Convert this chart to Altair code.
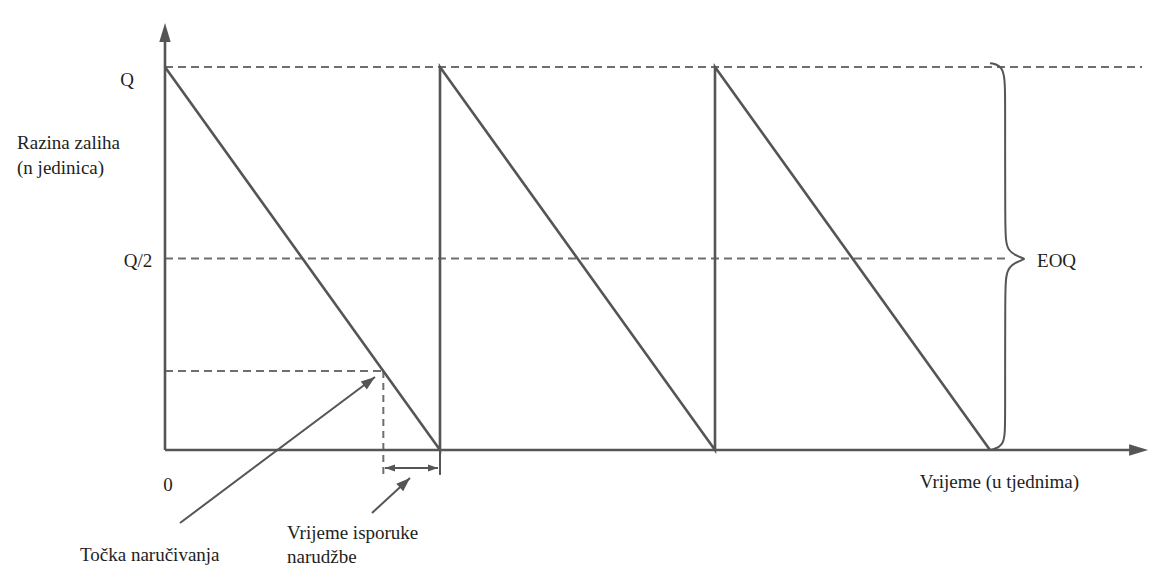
import altair as alt
import pandas as pd

# ---- data (time in cycles, level as fraction of Q) ----
cycle_t = [0, 1, 1, 2, 2, 3]
cycle_level = [1, 0, 1, 0, 1, 0]

ref_names = ["Q", "Q/2", "reorder"]
ref_levels = [1.0, 0.5, 0.206]
ref_end = [3.553, 3.062, 0.794]

reorder_t = 0.794
reorder_level = 0.206
lead_low = -0.065
lead_arrow_level = -0.047
lead_head_t = [0.80, 0.9927]

axis_y_top = 1.115
axis_x_end = 3.575

brace_t = [3.0, 3.055, 3.055, 3.055, 3.058, 3.127, 3.127, 3.058, 3.055, 3.055, 3.055, 3.0]
brace_level = [1.010, 1.003, 0.914, 0.574, 0.517, 0.499, 0.499, 0.480, 0.418, 0.078, 0.010, 0.0]

ptr_t1 = [0.0545, 0.7527]
ptr_l1 = [-0.1906, -0.1645]
ptr_t2 = [0.7636, 0.8909]
ptr_l2 = [0.1906, -0.0731]
ptr_angle = [53, 47]

label_text = ["Q", "Razina zaliha", "(n jedinica)", "Q/2", "0", "Točka naručivanja",
              "Vrijeme isporuke", "narudžbe", "Vrijeme (u tjednima)", "EOQ"]
label_t = [-0.138, -0.538, -0.538, -0.098, 0.011, -0.309, 0.4436, 0.4436, 2.745, 3.171]
label_level = [0.966, 0.802, 0.736, 0.493, -0.091, -0.274, -0.217, -0.279, -0.0836, 0.493]
label_align = ["center", "left", "left", "center", "center", "left", "left", "left", "left", "left"]

W, H = 1155, 562
xs = alt.Scale(domain=[-0.5709, 3.6291], nice=False, zero=False)
ys = alt.Scale(domain=[-0.3133, 1.1540], nice=False, zero=False)

LINE = "#555555"
DASH = "#6e6e6e"
TEXT = "#1e1e1e"
FONT = "Liberation Serif, Times New Roman, DejaVu Serif, serif"

# arrowhead outlines (tip at the data point)
HEAD_UP = "M0,0L-0.3,1L0.3,1Z"
HEAD_RIGHT = "M0,0L-1,-0.3L-1,0.3Z"
HEAD_LEFT_S = "M0,0L1,-0.35L1,0.35Z"
HEAD_RIGHT_S = "M0,0L-1,-0.35L-1,0.35Z"
HEAD_PTR = "M0,0L-0.36,1L0.36,1Z"

saw = pd.DataFrame({"t": cycle_t, "level": cycle_level, "o": range(len(cycle_t))})
refs = pd.DataFrame({"name": ref_names, "level": ref_levels, "t0": 0.0, "t1": ref_end})
brace = pd.DataFrame({"t": brace_t, "level": brace_level, "o": range(len(brace_t))})
ptr = pd.DataFrame({"t1": ptr_t1, "l1": ptr_l1, "t2": ptr_t2, "l2": ptr_l2, "ang": ptr_angle})
labels = pd.DataFrame({"text": label_text, "t": label_t, "level": label_level})

X = lambda f: alt.X(f, type="quantitative", scale=xs, axis=None)
Y = lambda f: alt.Y(f, type="quantitative", scale=ys, axis=None)

sawtooth = alt.Chart(saw).mark_line(color=LINE, strokeWidth=2.6).encode(
    x=X("t"), y=Y("level"), order="o:Q")

dashed = alt.Chart(refs).mark_rule(color=DASH, strokeWidth=2, strokeDash=[8, 5]).encode(
    x=X("t0"), x2="t1", y=Y("level"))

lead = pd.DataFrame({"t": [reorder_t], "top": [reorder_level], "bot": [lead_low]})
lead_dash = alt.Chart(lead).mark_rule(color=DASH, strokeWidth=2, strokeDash=[7, 5]).encode(
    x=X("t"), y=Y("top"), y2="bot")

tick = pd.DataFrame({"t": [1.0], "top": [0.0], "bot": [lead_low]})
lead_tick = alt.Chart(tick).mark_rule(color=LINE, strokeWidth=2).encode(
    x=X("t"), y=Y("top"), y2="bot")

dbl = pd.DataFrame({"t0": [lead_head_t[0]], "t1": [lead_head_t[1]], "level": [lead_arrow_level]})
dbl_line = alt.Chart(dbl).mark_rule(color=LINE, strokeWidth=2).encode(
    x=X("t0"), x2="t1", y=Y("level"))
dbl_heads = pd.DataFrame({"t": lead_head_t,
                          "level": [lead_arrow_level, lead_arrow_level],
                          "shape": [HEAD_LEFT_S, HEAD_RIGHT_S]})
dbl_pts = alt.Chart(dbl_heads).mark_point(filled=True, color=LINE, opacity=1, size=400, strokeWidth=0).encode(
    x=X("t"), y=Y("level"), shape=alt.Shape("shape:N", scale=None, legend=None))

ax = pd.DataFrame({"t0": [0.0], "t1": [axis_x_end - 0.03], "l0": [0.0], "l1": [axis_y_top - 0.03]})
y_axis = alt.Chart(ax).mark_rule(color=LINE, strokeWidth=2.6).encode(
    x=X("t0"), y=Y("l0"), y2="l1")
x_axis = alt.Chart(ax).mark_rule(color=LINE, strokeWidth=2.6).encode(
    x=X("t0"), x2="t1", y=Y("l0"))
heads = pd.DataFrame({"t": [0.0, axis_x_end], "level": [axis_y_top, 0.0],
                      "shape": [HEAD_UP, HEAD_RIGHT]})
axis_heads = alt.Chart(heads).mark_point(filled=True, color=LINE, opacity=1, size=1444, strokeWidth=0).encode(
    x=X("t"), y=Y("level"), shape=alt.Shape("shape:N", scale=None, legend=None))

ptr_lines = alt.Chart(ptr).mark_rule(color=LINE, strokeWidth=2).encode(
    x=X("t1"), y=Y("l1"), x2="t2", y2="l2")
ptr_heads = alt.Chart(ptr).mark_point(filled=True, color=LINE, opacity=1, size=784, strokeWidth=0,
                                      shape=HEAD_PTR).encode(
    x=X("t2"), y=Y("l2"), angle=alt.Angle("ang:Q", scale=None))

brace_line = alt.Chart(brace).mark_line(color=LINE, strokeWidth=2, interpolate="basis").encode(
    x=X("t"), y=Y("level"), order="o:Q")

text_layers = []
for al in ["left", "center"]:
    sub = labels[[a == al for a in label_align]]
    text_layers.append(
        alt.Chart(sub).mark_text(align=al, baseline="middle", font=FONT,
                                 fontSize=19, color=TEXT).encode(
            x=X("t"), y=Y("level"), text="text:N"))

chart = alt.layer(
    dashed, lead_dash, sawtooth, y_axis, x_axis, axis_heads, lead_tick, dbl_line, dbl_pts,
    ptr_lines, ptr_heads, brace_line, *text_layers
).properties(
    width=W, height=H, padding=0, autosize=alt.AutoSizeParams(type="none"),
    background="white"
).configure_view(stroke=None)

chart.save("out.html", embed_options={"renderer": "svg", "actions": False})
